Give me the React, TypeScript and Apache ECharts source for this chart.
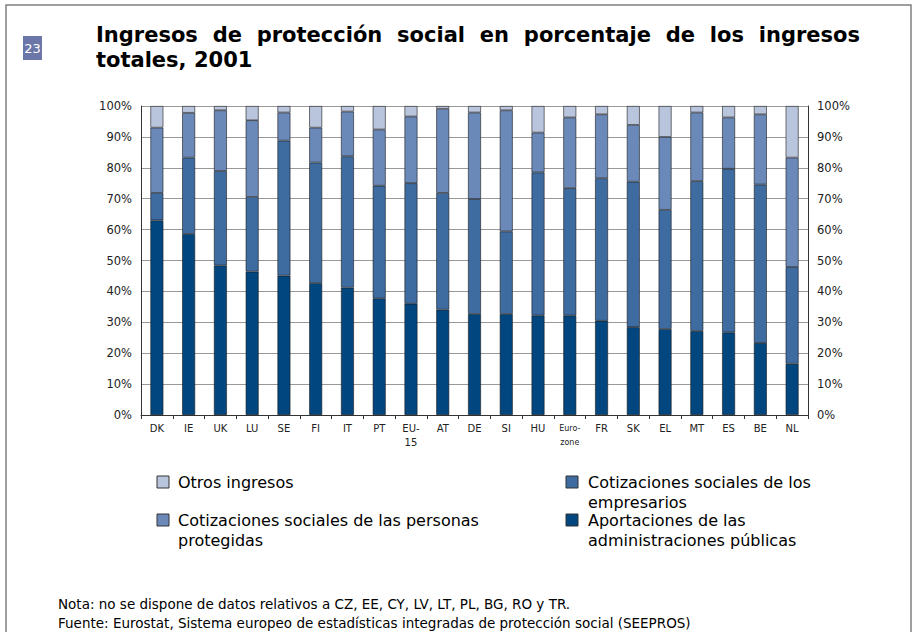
import React, { useEffect, useRef } from "react";
import * as echarts from "echarts";

// ---------- Data (% of total receipts, 2001) ----------
const categories = [
  "DK", "IE", "UK", "LU", "SE", "FI", "IT", "PT", "EU-\n15", "AT", "DE",
  "SI", "HU", "Euro-\nzone", "FR", "SK", "EL", "MT", "ES", "BE", "NL",
];
// Aportaciones de las administraciones públicas
const publicContrib = [63.0, 58.6, 48.4, 46.4, 45.1, 42.7, 41.2, 37.7, 36.0, 34.1, 32.7, 32.7, 32.2, 32.2, 30.5, 28.4, 27.8, 27.2, 26.7, 23.3, 16.6];
// Cotizaciones sociales de los empresarios
const employerContrib = [8.9, 24.7, 30.6, 24.2, 43.7, 39.0, 42.5, 36.5, 39.0, 37.8, 37.2, 26.7, 46.3, 41.2, 46.1, 47.1, 38.6, 48.5, 53.0, 51.3, 31.3];
// Cotizaciones sociales de las personas protegidas
const protectedContrib = [21.1, 14.5, 19.6, 24.8, 9.1, 11.3, 14.5, 18.2, 21.6, 27.2, 28.0, 39.2, 12.9, 22.9, 20.7, 18.4, 23.6, 22.2, 16.6, 22.7, 35.4];
// Otros ingresos
const otherIncome = [7.0, 2.2, 1.4, 4.6, 2.1, 7.0, 1.8, 7.6, 3.4, 0.9, 2.1, 1.4, 8.6, 3.7, 2.7, 6.1, 10.0, 2.1, 3.7, 2.7, 16.7];

const seriesNames = [
  "Aportaciones de las administraciones públicas",
  "Cotizaciones sociales de los empresarios",
  "Cotizaciones sociales de las personas protegidas",
  "Otros ingresos",
];
const seriesData = [publicContrib, employerContrib, protectedContrib, otherIncome];

const yMin = 0;
const yMax = 100;
const yInterval = 10;

const titleLine1 = "Ingresos de protección social en porcentaje de los ingresos";
const titleLine2 = "totales, 2001";
const badgeText = "23";
const noteText = "Nota: no se dispone de datos relativos a CZ, EE, CY, LV, LT, PL, BG, RO y TR.";
const sourceText = "Fuente: Eurostat, Sistema europeo de estadísticas integradas de protección social (SEEPROS)";

// legend: [series index, lines]
const legendLeft = [
  { idx: 3, lines: ["Otros ingresos"] },
  { idx: 2, lines: ["Cotizaciones sociales de las personas", "protegidas"] },
];
const legendRight = [
  { idx: 1, lines: ["Cotizaciones sociales de los", "empresarios"] },
  { idx: 0, lines: ["Aportaciones de las", "administraciones públicas"] },
];

// ---------- Styles ----------
const COLORS = ["#02467F", "#3E6BA0", "#6A89B9", "#B9C4DD"];
const FONT = '"DejaVu Sans", Verdana, sans-serif';
const W = 917;
const H = 632;

function measure(text: string, font: string): number {
  const c = document.createElement("canvas").getContext("2d");
  if (!c) return text.length * 10;
  c.font = font;
  return c.measureText(text).width;
}

function justifiedWords(text: string, x0: number, x1: number, y: number, font: string) {
  const words = text.split(" ");
  const widths = words.map((w) => measure(w, font));
  const total = widths.reduce((a, b) => a + b, 0);
  const gap = words.length > 1 ? (x1 - x0 - total) / (words.length - 1) : 0;
  let x = x0;
  return words.map((w, i) => {
    const el = {
      type: "text",
      x,
      y,
      style: { text: w, font, fill: "#000", verticalAlign: "middle", align: "left" },
    };
    x += widths[i] + gap;
    return el;
  });
}

export default function App() {
  const ref = useRef<HTMLDivElement>(null);

  useEffect(() => {
    if (!ref.current) return;
    const chart = echarts.init(ref.current, undefined, { renderer: "svg" });

    const titleFont = `bold 21px ${FONT}`;
    const legendFont = `16px ${FONT}`;
    const noteFont = `13.5px ${FONT}`;

    const graphics: any[] = [
      // frame
      {
        type: "polyline",
        shape: { points: [[6, H + 5], [6, 5], [911, 5], [911, H + 5]] },
        style: { stroke: "#808080", lineWidth: 1.5, fill: "none" },
        silent: true,
      },
      // badge
      { type: "rect", shape: { x: 23, y: 36, width: 19, height: 24 }, style: { fill: "#6B77A8" } },
      {
        type: "text",
        x: 32.5,
        y: 48.5,
        style: { text: badgeText, font: `13px ${FONT}`, fill: "#fff", align: "center", verticalAlign: "middle" },
      },
      ...justifiedWords(titleLine1, 96, 860, 35, titleFont),
      {
        type: "text",
        x: 96,
        y: 60,
        style: { text: titleLine2, font: titleFont, fill: "#000", verticalAlign: "middle" },
      },
      {
        type: "text",
        x: 58,
        y: 604,
        style: { text: noteText, font: noteFont, fill: "#000", verticalAlign: "middle" },
      },
      {
        type: "text",
        x: 58,
        y: 623,
        style: { text: sourceText, font: noteFont, fill: "#000", verticalAlign: "middle" },
      },
    ];

    const addLegend = (items: { idx: number; lines: string[] }[], bx: number, tx: number) => {
      const rowY = [482, 520];
      items.forEach((it, r) => {
        const cy = rowY[r];
        graphics.push({
          type: "rect",
          shape: { x: bx, y: cy - 6, width: 12, height: 12 },
          style: { fill: COLORS[it.idx], stroke: "#333", lineWidth: 1 },
        });
        it.lines.forEach((ln, k) => {
          graphics.push({
            type: "text",
            x: tx,
            y: cy + k * 20,
            style: { text: ln, font: legendFont, fill: "#000", verticalAlign: "middle" },
          });
        });
      });
    };
    addLegend(legendLeft, 157, 178);
    addLegend(legendRight, 566, 588);

    const yAxisCommon = {
      type: "value",
      min: yMin,
      max: yMax,
      interval: yInterval,
      axisLine: { show: true, lineStyle: { color: "#333", width: 1 } },
      axisTick: { show: false },
      axisLabel: {
        formatter: "{value}%",
        color: "#222",
        fontFamily: FONT,
        fontSize: 11.5,
      },
    };

    chart.setOption({
      animation: false,
      backgroundColor: "#fff",
      grid: { left: 141, right: 109, top: 106, bottom: 217, containLabel: false },
      xAxis: {
        type: "category",
        data: categories,
        axisLine: { show: true, lineStyle: { color: "#333", width: 1 } },
        axisTick: { show: true, length: 4, lineStyle: { color: "#333" } },
        axisLabel: {
          interval: 0,
          color: "#222",
          fontFamily: FONT,
          fontSize: 10,
          margin: 6,
          lineHeight: 14,
          formatter: (v: string) =>
            v.startsWith("Euro") ? v.split("\n").map((p) => `{s|${p}}`).join("\n") : v,
          rich: { s: { fontSize: 8, fontFamily: FONT, color: "#222", lineHeight: 14 } },
        },
        splitLine: { show: false },
      },
      yAxis: [
        {
          ...yAxisCommon,
          position: "left",
          axisLabel: { ...yAxisCommon.axisLabel, margin: 9 },
          splitLine: { show: true, lineStyle: { color: "#999", width: 1 } },
        },
        {
          ...yAxisCommon,
          position: "right",
          axisLabel: { ...yAxisCommon.axisLabel, margin: 9 },
          splitLine: { show: false },
        },
      ],
      series: seriesData.map((d, i) => ({
        name: seriesNames[i],
        type: "bar",
        stack: "total",
        yAxisIndex: 0,
        barWidth: 13,
        data: d,
        itemStyle: { color: COLORS[i], borderColor: "rgba(25,25,25,0.85)", borderWidth: 0.7 },
        emphasis: { disabled: true },
      })),
      graphic: graphics,
    });

    return () => chart.dispose();
  }, []);

  return (
    <div
      ref={ref}
      style={{ position: "absolute", left: 0, top: 0, width: W, height: H, background: "#fff" }}
    />
  );
}
